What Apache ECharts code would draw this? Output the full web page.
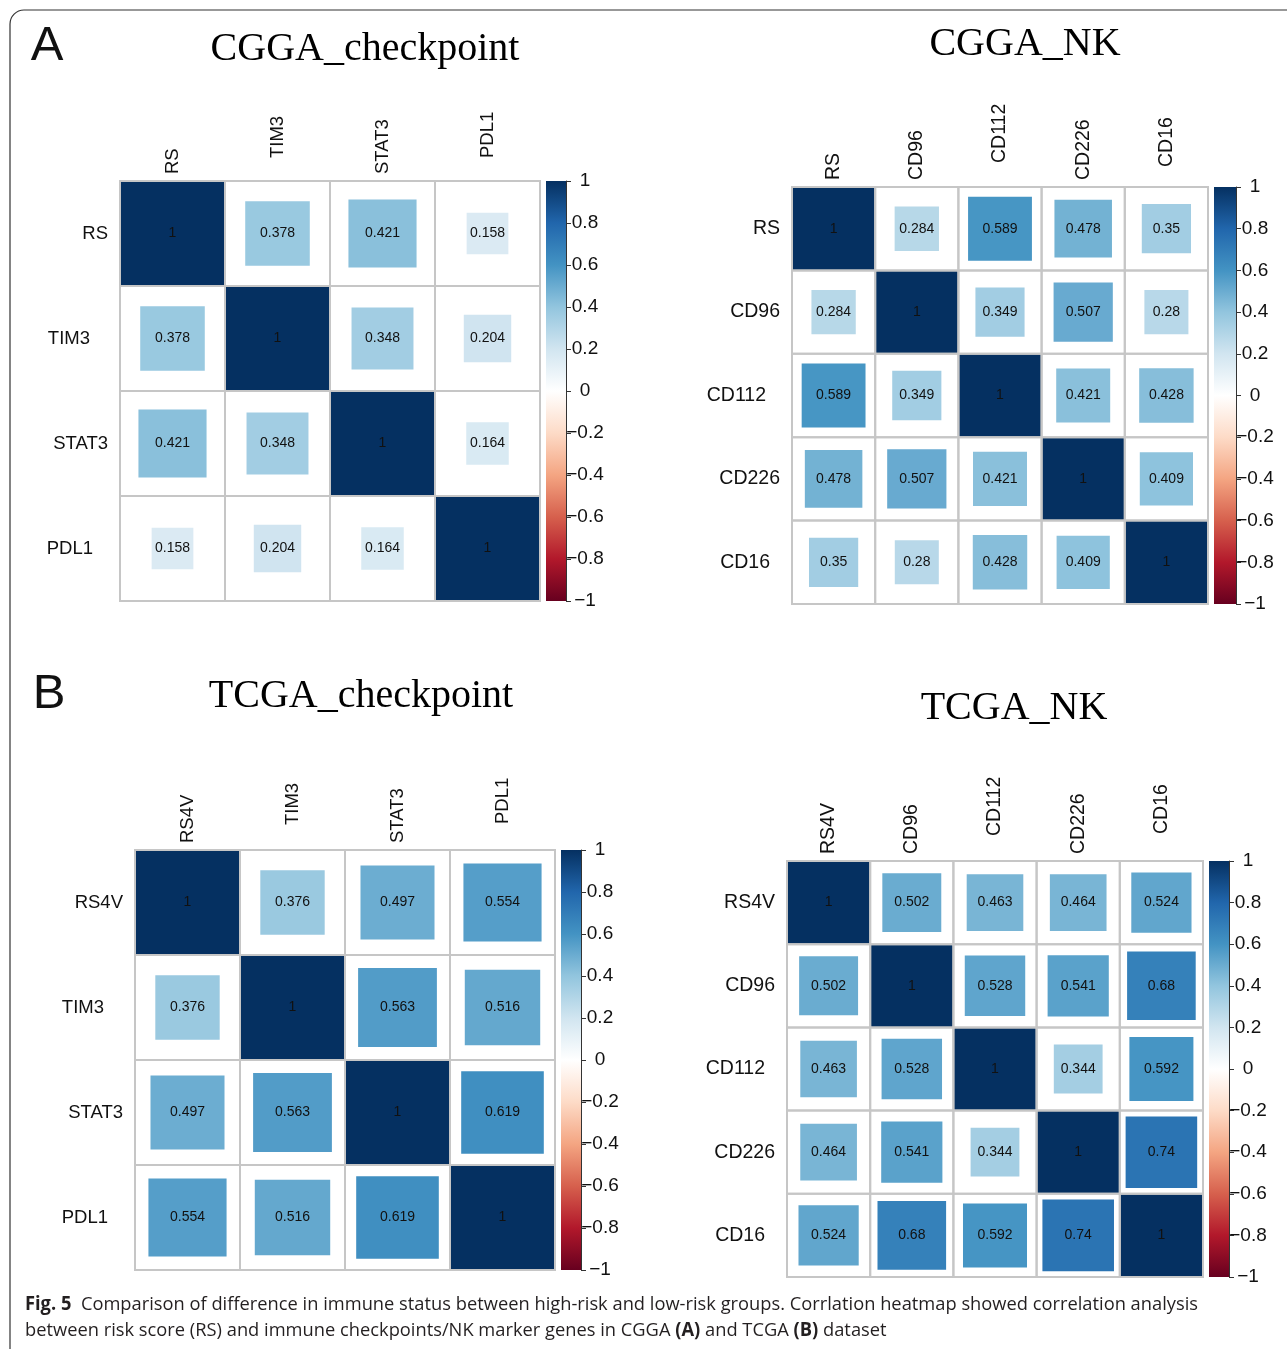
<!DOCTYPE html>
<html>
<head>
<meta charset="utf-8">
<script src="https://cdn.jsdelivr.net/npm/echarts@6/dist/echarts.min.js"></script>
<style>
html,body{margin:0;padding:0;background:#fff;}
#chart{width:1287px;height:1349px;}
</style>
</head>
<body>
<div id="chart"></div>
<script>
// ---------------- DATA ----------------
const CGGA_CP_GENES = ['RS', 'TIM3', 'STAT3', 'PDL1'];
const CGGA_CP_R = [
  [1, 0.378, 0.421, 0.158],
  [0.378, 1, 0.348, 0.204],
  [0.421, 0.348, 1, 0.164],
  [0.158, 0.204, 0.164, 1]
];
const CGGA_NK_GENES = ['RS', 'CD96', 'CD112', 'CD226', 'CD16'];
const CGGA_NK_R = [
  [1, 0.284, 0.589, 0.478, 0.35],
  [0.284, 1, 0.349, 0.507, 0.28],
  [0.589, 0.349, 1, 0.421, 0.428],
  [0.478, 0.507, 0.421, 1, 0.409],
  [0.35, 0.28, 0.428, 0.409, 1]
];
const TCGA_CP_GENES = ['RS4V', 'TIM3', 'STAT3', 'PDL1'];
const TCGA_CP_R = [
  [1, 0.376, 0.497, 0.554],
  [0.376, 1, 0.563, 0.516],
  [0.497, 0.563, 1, 0.619],
  [0.554, 0.516, 0.619, 1]
];
const TCGA_NK_GENES = ['RS4V', 'CD96', 'CD112', 'CD226', 'CD16'];
const TCGA_NK_R = [
  [1, 0.502, 0.463, 0.464, 0.524],
  [0.502, 1, 0.528, 0.541, 0.68],
  [0.463, 0.528, 1, 0.344, 0.592],
  [0.464, 0.541, 0.344, 1, 0.74],
  [0.524, 0.68, 0.592, 0.74, 1]
];
const TITLES = ['CGGA_checkpoint', 'CGGA_NK', 'TCGA_checkpoint', 'TCGA_NK'];
const COLORBAR_MIN = -1, COLORBAR_MAX = 1, COLORBAR_STEP = 0.2;
// corrplot RdBu palette, from -1 to 1
const PALETTE = ['#67001F','#B2182B','#D6604D','#F4A582','#FDDBC7','#FFFFFF','#D1E5F0','#92C5DE','#4393C3','#2166AC','#053061'];

// ---------------- LAYOUT ----------------
const LAYOUT = [
  {genes: CGGA_CP_GENES, r: CGGA_CP_R, title: TITLES[0], titlePos: [365, 49], fs: 18.5,
   grid: {left: 120, top: 181, width: 420, height: 420}, bar: {left: 546, top: 181, width: 20, height: 420},
   xShift: [0, 16, 0, 16], yShift: [0, 18, 0, 15]},
  {genes: CGGA_NK_GENES, r: CGGA_NK_R, title: TITLES[1], titlePos: [1025, 44], fs: 19.5,
   grid: {left: 792, top: 187, width: 416, height: 417}, bar: {left: 1214, top: 187, width: 22, height: 417},
   xShift: [0, 0, 17, 0, 13], yShift: [0, 0, 14, 0, 10]},
  {genes: TCGA_CP_GENES, r: TCGA_CP_R, title: TITLES[2], titlePos: [361, 696], fs: 18.5,
   grid: {left: 135, top: 850, width: 420, height: 420}, bar: {left: 561, top: 850, width: 20, height: 420},
   xShift: [0, 18, 0, 19], yShift: [0, 19, 0, 15]},
  {genes: TCGA_NK_GENES, r: TCGA_NK_R, title: TITLES[3], titlePos: [1014, 708], fs: 19.5,
   grid: {left: 787, top: 861, width: 416, height: 416}, bar: {left: 1209, top: 861, width: 20, height: 416},
   xShift: [0, 0, 18, 0, 20], yShift: [0, 0, 10, 0, 10]}
];
const SANS = '"Liberation Sans", Arial, sans-serif';
const SERIF = '"Liberation Serif", "Times New Roman", serif';

function hexToRgb(h){ return [parseInt(h.slice(1,3),16), parseInt(h.slice(3,5),16), parseInt(h.slice(5,7),16)]; }
function colorOf(v){
  const t = (v - COLORBAR_MIN) / (COLORBAR_MAX - COLORBAR_MIN) * (PALETTE.length - 1);
  const i = Math.max(0, Math.min(PALETTE.length - 2, Math.floor(t)));
  const f = t - i;
  const a = hexToRgb(PALETTE[i]), b = hexToRgb(PALETTE[i + 1]);
  const c = a.map((x, k) => Math.round(x + (b[k] - x) * f));
  return 'rgb(' + c.join(',') + ')';
}
function fmtTick(v){
  const r = Math.round(v * 10) / 10;
  if (r === 0) return '0';
  return (r < 0 ? '\u2212' : '') + String(Math.abs(r));
}

const grids = [], xAxes = [], yAxes = [], series = [];
LAYOUT.forEach((p, k) => {
  const gi = grids.length;
  grids.push(Object.assign({containLabel: false}, p.grid));
  grids.push(Object.assign({containLabel: false}, p.bar));
  xAxes.push({
    gridIndex: gi, type: 'category', position: 'top',
    data: p.genes.map((g, i) => ({value: g, textStyle: {padding: [0, 0, 0, p.xShift[i]]}})),
    axisLine: {show: false}, axisTick: {show: false}, splitLine: {show: false},
    axisLabel: {rotate: -90, margin: 7, fontSize: p.fs, color: '#111', fontFamily: SANS, interval: 0}
  });
  yAxes.push({
    gridIndex: gi, type: 'category', inverse: true,
    data: p.genes.map((g, i) => ({value: g, textStyle: {padding: [0, p.yShift[i], 0, 0]}})),
    axisLine: {show: false}, axisTick: {show: false}, splitLine: {show: false},
    axisLabel: {margin: 12, fontSize: p.fs, color: '#111', fontFamily: SANS, interval: 0}
  });
  xAxes.push({gridIndex: gi + 1, type: 'category', data: ['bar'], show: false});
  yAxes.push({
    gridIndex: gi + 1, type: 'value', min: COLORBAR_MIN, max: COLORBAR_MAX, interval: COLORBAR_STEP,
    position: 'right',
    axisLine: {show: true, lineStyle: {color: '#333', width: 1}},
    axisTick: {show: true, length: 5, inside: false, lineStyle: {color: '#333', width: 1}},
    splitLine: {show: false},
    axisLabel: {align: 'center', margin: 19, fontSize: 19, color: '#111', fontFamily: SANS, formatter: fmtTick}
  });
  const cells = [];
  p.r.forEach((row, yi) => row.forEach((v, xi) => cells.push([xi, yi, v])));
  // colored squares (area proportional to |r|)
  series.push({
    type: 'custom', xAxisIndex: gi, yAxisIndex: gi, z: 2, silent: true, data: cells,
    renderItem: function (params, api) {
      const v = api.value(2);
      const c = api.coord([api.value(0), api.value(1)]);
      const s = api.size([1, 1]);
      const f = Math.sqrt(Math.abs(v));
      const w = s[0] * f, h = s[1] * f;
      return {
        type: 'group', children: [
          {type: 'rect', shape: {x: c[0] - w / 2, y: c[1] - h / 2, width: w, height: h},
           style: {fill: colorOf(v)}},
          {type: 'text', x: c[0], y: c[1],
           style: {text: String(v), fill: '#111', font: '14px ' + SANS, textAlign: 'center', textVerticalAlign: 'middle'}}
        ]
      };
    }
  });
  // grid lines
  series.push({
    type: 'custom', xAxisIndex: gi, yAxisIndex: gi, z: 3, silent: true, data: cells,
    renderItem: function (params, api) {
      const c = api.coord([api.value(0), api.value(1)]);
      const s = api.size([1, 1]);
      return {type: 'rect', shape: {x: c[0] - s[0] / 2, y: c[1] - s[1] / 2, width: s[0], height: s[1]},
              style: {fill: 'none', stroke: '#C6C6C6', lineWidth: 2}};
    }
  });
  // colorbar
  series.push({
    type: 'custom', xAxisIndex: gi + 1, yAxisIndex: gi + 1, z: 2, silent: true, data: [[0, COLORBAR_MAX, COLORBAR_MIN]],
    renderItem: function (params, api) {
      const top = api.coord([0, api.value(1)]);
      const bot = api.coord([0, api.value(2)]);
      const w = api.size([1, 0])[0];
      const stops = PALETTE.map((col, i) => ({offset: 1 - i / (PALETTE.length - 1), color: col}));
      stops.reverse();
      return {type: 'rect', shape: {x: top[0] - w / 2, y: top[1], width: w, height: bot[1] - top[1]},
              style: {fill: new echarts.graphic.LinearGradient(0, 0, 0, 1, stops)}};
    }
  });
});

// caption text fitting
const CAP1_BOLD = 'Fig. 5';
const CAP1_REST = '  Comparison of difference in immune status between high-risk and low-risk groups. Corrlation heatmap showed correlation analysis';
const CAP2_A = 'between risk score (RS) and immune checkpoints/NK marker genes in CGGA ';
const CAP2_B = ' and TCGA ';
const CAP2_C = ' dataset';
const CAP_FONT = '"Open Sans", "Noto Sans", sans-serif';
const CAP_SIZE = 19;
const cv = document.createElement('canvas').getContext('2d');
cv.font = 'bold ' + CAP_SIZE + 'px ' + CAP_FONT;
let w1 = cv.measureText(CAP1_BOLD).width;
cv.font = CAP_SIZE + 'px ' + CAP_FONT;
w1 += cv.measureText(CAP1_REST).width;
const capScale = (1198 - 25) / w1;

const graphics = [
  {type: 'rect', silent: true, shape: {x: 10, y: 10, width: 1320, height: 1400, r: 14},
   style: {fill: 'none', stroke: '#333', lineWidth: 1.2}},
  {type: 'text', x: 47, y: 46, style: {text: 'A', font: '49px ' + SANS, fill: '#111', textAlign: 'center', textVerticalAlign: 'middle'}},
  {type: 'text', x: 49, y: 694, style: {text: 'B', font: '49px ' + SANS, fill: '#111', textAlign: 'center', textVerticalAlign: 'middle'}},
  {type: 'text', x: 25, y: 1305, scaleX: capScale, originX: 0,
   style: {text: '{b|' + CAP1_BOLD + '}' + CAP1_REST, font: CAP_SIZE + 'px ' + CAP_FONT, fill: '#231F20',
           textAlign: 'left', textVerticalAlign: 'middle',
           rich: {b: {fontWeight: 'bold', fontSize: CAP_SIZE, fontFamily: CAP_FONT, fill: '#231F20'}}}},
  {type: 'text', x: 25, y: 1331, scaleX: capScale, originX: 0,
   style: {text: CAP2_A + '{b|(A)}' + CAP2_B + '{b|(B)}' + CAP2_C, font: CAP_SIZE + 'px ' + CAP_FONT, fill: '#231F20',
           textAlign: 'left', textVerticalAlign: 'middle',
           rich: {b: {fontWeight: 'bold', fontSize: CAP_SIZE, fontFamily: CAP_FONT, fill: '#231F20'}}}}
];
LAYOUT.forEach(p => {
  graphics.push({type: 'text', x: p.titlePos[0], y: p.titlePos[1],
    style: {text: p.title, font: '40px ' + SERIF, fill: '#000', textAlign: 'center', textVerticalAlign: 'middle'}});
});

const chart = echarts.init(document.getElementById('chart'), null, {renderer: 'canvas'});
chart.setOption({
  backgroundColor: '#fff',
  animation: false,
  grid: grids,
  xAxis: xAxes,
  yAxis: yAxes,
  series: series,
  graphic: graphics
});
</script>
</body>
</html>
